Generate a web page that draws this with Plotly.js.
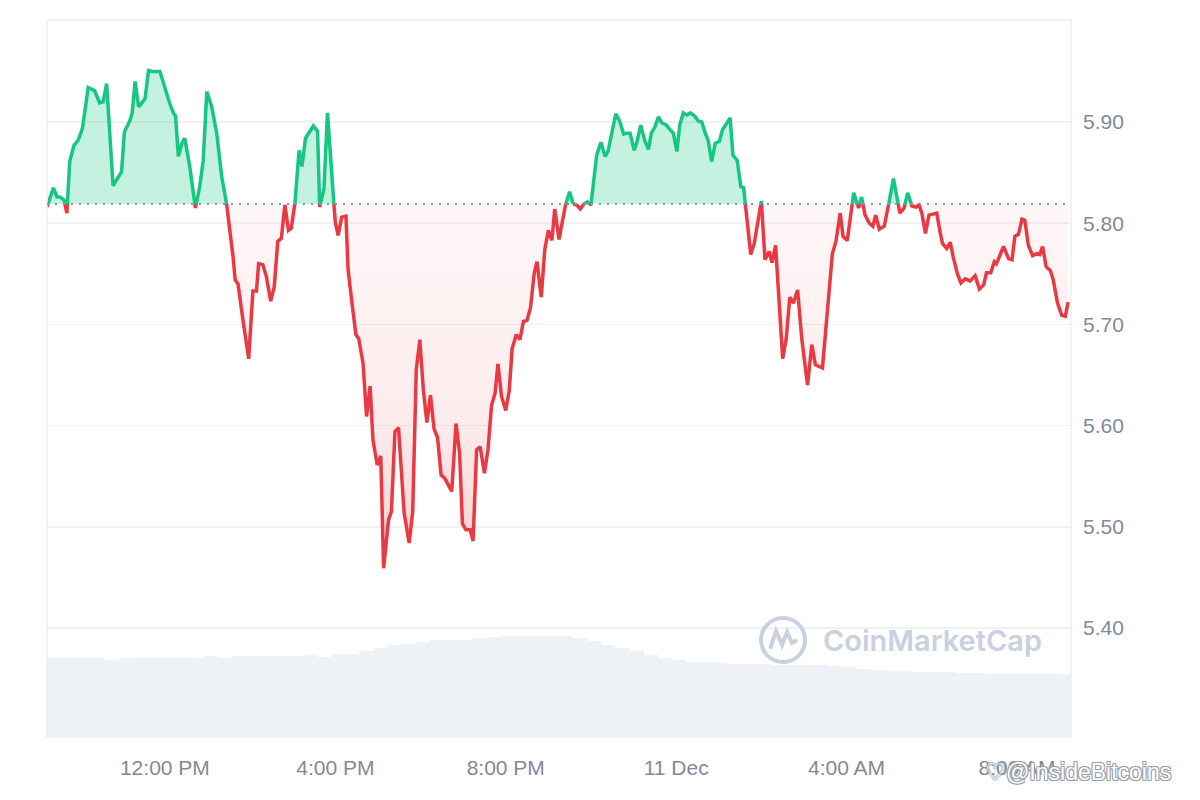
<!DOCTYPE html>
<html><head><meta charset="utf-8">
<script src="https://cdn.plot.ly/plotly-3.0.1.min.js"></script>
<style>html,body{margin:0;padding:0;background:#fff}#chart{width:1200px;height:800px}</style>
</head><body><div id="chart"></div>
<script>
// ---- data ----
const baselinePrice = 5.819;
// minutes since 10 Dec 00:00
const minutes = [554,563,568,572,578,582,586,592,598,604,612,621,628,633,638,647,654,659,663,671,674,678,683,692,697,702,713,720,727,732,735,739,744,748,755,763,769,774,779,786,793,800,805,810,816,819,823,830,838,844,849,852,858,863,869,874,879,884,889,894,898,903,909,913,918,929,935,938,944,949,958,960,964,969,975,978,983,989,993,999,1004,1009,1013,1019,1024,1028,1035,1039,1044,1049,1057,1064,1069,1074,1079,1084,1089,1094,1099,1104,1109,1114,1124,1130,1135,1139,1144,1150,1154,1159,1164,1170,1175,1180,1185,1189,1194,1200,1205,1209,1215,1220,1225,1230,1235,1240,1244,1250,1255,1260,1265,1269,1275,1284,1290,1295,1300,1305,1310,1315,1320,1328,1334,1340,1344,1355,1361,1366,1371,1375,1381,1385,1390,1396,1401,1405,1410,1415,1420,1426,1432,1436,1441,1445,1450,1455,1460,1466,1471,1476,1481,1485,1490,1495,1501,1505,1516,1520,1526,1531,1535,1545,1550,1560,1565,1571,1575,1580,1590,1595,1600,1605,1611,1617,1625,1631,1636,1646,1654,1660,1665,1671,1675,1681,1690,1697,1701,1706,1712,1717,1721,1726,1733,1739,1746,1755,1761,1766,1772,1778,1782,1786,1791,1796,1807,1812,1815,1821,1826,1830,1836,1841,1847,1854,1861,1867,1873,1877,1883,1888,1891,1901,1908,1913,1917,1922,1927,1931,1936,1942,1948,1952,1956,1961,1967,1971,1977,1983,1988,1992];
const prices = [5.816,5.835,5.826,5.826,5.823,5.810,5.861,5.877,5.882,5.894,5.934,5.931,5.919,5.920,5.938,5.837,5.846,5.851,5.890,5.902,5.909,5.940,5.915,5.923,5.951,5.950,5.950,5.933,5.918,5.909,5.906,5.866,5.879,5.884,5.856,5.815,5.836,5.862,5.930,5.915,5.889,5.846,5.829,5.803,5.767,5.744,5.740,5.704,5.666,5.733,5.733,5.760,5.759,5.747,5.723,5.737,5.782,5.785,5.818,5.793,5.795,5.819,5.872,5.856,5.884,5.896,5.891,5.816,5.834,5.909,5.819,5.801,5.788,5.806,5.807,5.754,5.724,5.690,5.686,5.662,5.609,5.639,5.586,5.561,5.570,5.459,5.507,5.515,5.594,5.598,5.513,5.484,5.515,5.655,5.685,5.635,5.603,5.630,5.597,5.588,5.551,5.548,5.535,5.602,5.573,5.503,5.497,5.497,5.486,5.576,5.579,5.553,5.576,5.620,5.632,5.661,5.629,5.615,5.635,5.676,5.690,5.685,5.703,5.704,5.717,5.750,5.762,5.727,5.774,5.793,5.783,5.814,5.784,5.818,5.831,5.819,5.818,5.814,5.819,5.821,5.818,5.867,5.880,5.866,5.871,5.908,5.900,5.888,5.889,5.889,5.872,5.881,5.897,5.881,5.873,5.889,5.895,5.905,5.899,5.897,5.892,5.889,5.871,5.897,5.909,5.907,5.909,5.906,5.901,5.900,5.889,5.882,5.861,5.879,5.881,5.892,5.904,5.867,5.862,5.836,5.835,5.769,5.780,5.822,5.764,5.772,5.761,5.778,5.666,5.686,5.727,5.721,5.734,5.685,5.640,5.680,5.660,5.657,5.718,5.770,5.782,5.810,5.787,5.783,5.830,5.815,5.826,5.808,5.800,5.797,5.808,5.794,5.797,5.818,5.844,5.810,5.815,5.830,5.817,5.816,5.818,5.810,5.790,5.808,5.810,5.790,5.780,5.775,5.781,5.767,5.750,5.741,5.745,5.743,5.748,5.735,5.739,5.751,5.751,5.762,5.760,5.777,5.765,5.764,5.787,5.789,5.804,5.803,5.778,5.768,5.770,5.769,5.777,5.757,5.753,5.744,5.721,5.709,5.708,5.722];
// volume bars, one every 20 minutes from 09:24 (relative units)
const volumeStartMin = 564;
const volumeStepMin = 20;
const volumes = [80,80,80,80,78,80,80,80,80,80,80,82,80,82,82,82,82,82,83,81,84,84,87,90,93,94,96,98,98,98,100,101,102,102,102,102,102,100,97,93,90,87,83,80,78,76,76,75,74,74,74,73,73,73,73,72,71,69,68,67,67,66,66,66,65,65,64,64,64,64,64,64];
const xTickTimes = ['2024-12-10 12:00','2024-12-10 16:00','2024-12-10 20:00','2024-12-11 00:00','2024-12-11 04:00','2024-12-11 08:00'];
const xTickLabels = ['12:00 PM','4:00 PM','8:00 PM','11 Dec','4:00 AM','8:00 AM'];
const yTickValues = [5.40,5.50,5.60,5.70,5.80,5.90];
const rangeStartMin = 554, rangeEndMin = 1996;

// ---- helpers ----
function toDate(m){
  const d = new Date(Date.UTC(2024,11,10) + Math.round(m*60)*1000);
  return d.toISOString().slice(0,19).replace('T',' ');
}
const runs = []; let cur = null;
for (let i=0;i<minutes.length;i++){
  const up = prices[i] >= baselinePrice;
  if (cur && cur.up !== up){
    const t0=minutes[i-1], t1=minutes[i], v0=prices[i-1], v1=prices[i];
    const tc = t0 + (baselinePrice - v0)/(v1 - v0)*(t1 - t0);
    cur.pts.push([tc, baselinePrice]); runs.push(cur);
    cur = {up, pts:[[tc, baselinePrice]]};
  }
  if (!cur) cur = {up, pts:[]};
  cur.pts.push([minutes[i], prices[i]]);
}
runs.push(cur);
function build(up){
  const lx=[],ly=[],fx=[],fy=[];
  runs.filter(r=>r.up===up).forEach(r=>{
    r.pts.forEach(p=>{lx.push(toDate(p[0])); ly.push(p[1]);});
    lx.push(null); ly.push(null);
    const poly=[[r.pts[0][0],baselinePrice], ...r.pts, [r.pts[r.pts.length-1][0],baselinePrice]];
    poly.forEach(p=>{fx.push(toDate(p[0])); fy.push(p[1]);});
    fx.push(null); fy.push(null);
  });
  return {lx,ly,fx,fy};
}
const G = build(true), R = build(false);
const GREEN = '#16c784', RED = '#ea3943';

const volX = volumes.map((v,i)=>toDate(volumeStartMin + i*volumeStepMin));

const traces = [
  {type:'bar', x: volX, y: volumes, yaxis:'y2', width: volumeStepMin*60000,
   marker:{color:'#eef1f5', line:{width:0}}, hoverinfo:'skip', showlegend:false},
  {type:'scatter', mode:'lines', x:R.fx, y:R.fy, fill:'toself', line:{width:0}, connectgaps:false,
   fillcolor:'rgba(234,57,67,0.08)',
   fillgradient:{type:'vertical', start:5.46, stop:baselinePrice,
     colorscale:[[0,'rgba(234,57,67,0.24)'],[0.4,'rgba(234,57,67,0.10)'],[1,'rgba(234,57,67,0.04)']]},
   hoverinfo:'skip', showlegend:false},
  {type:'scatter', mode:'lines', x:G.fx, y:G.fy, fill:'toself', line:{width:0}, connectgaps:false,
   fillcolor:'rgba(22,199,132,0.25)', hoverinfo:'skip', showlegend:false},
  {type:'scatter', mode:'lines', x:R.lx, y:R.ly, connectgaps:false, line:{color:RED, width:3.5}, showlegend:false},
  {type:'scatter', mode:'lines', x:G.lx, y:G.ly, connectgaps:false, line:{color:GREEN, width:3.5}, showlegend:false}
];

const tickFont = {family:'Arial, "Liberation Sans", sans-serif', size:21, color:'#808a9d'};
const frame = '#eceef1';
const layout = {
  width:1200, height:800,
  margin:{l:47, r:129, t:20, b:62},
  paper_bgcolor:'#fff', plot_bgcolor:'#fff',
  showlegend:false, bargap:0,
  xaxis:{type:'date', range:[toDate(rangeStartMin), toDate(rangeEndMin)],
    tickvals:xTickTimes, ticktext:xTickLabels, tickfont:tickFont,
    showgrid:false, zeroline:false, showline:false, ticks:'', ticklabelstandoff:15, fixedrange:true},
  yaxis:{side:'right', range:[5.2913, 6.0008], tickvals:yTickValues, tickformat:'.2f',
    tickfont:tickFont, showgrid:true, gridcolor:'#f0f1f3', gridwidth:1.5, zeroline:false,
    showline:false, ticks:'', ticklabelstandoff:11},
  yaxis2:{overlaying:'y', range:[0,718], visible:false},
  shapes:[
    {type:'line', xref:'paper', yref:'paper', x0:0, x1:0, y0:0, y1:1, line:{color:frame, width:1.5}},
    {type:'line', xref:'paper', yref:'paper', x0:1, x1:1, y0:0, y1:1, line:{color:frame, width:1.5}},
    {type:'line', xref:'paper', yref:'paper', x0:0, x1:1, y0:1, y1:1, line:{color:frame, width:1.5}},
    {type:'line', xref:'paper', yref:'y', x0:0, x1:0.997, y0:baselinePrice, y1:baselinePrice, layer:'above',
     line:{color:'#8c93a6', width:2, dash:'2px,6px'}},
    {type:'circle', xref:'paper', yref:'paper', xsizemode:'pixel', ysizemode:'pixel',
     xanchor:0.7188, yanchor:0.1365, x0:-22, x1:22, y0:-22, y1:22, line:{color:'#c9d1de', width:4}},
    {type:'path', xref:'paper', yref:'paper', xsizemode:'pixel', ysizemode:'pixel',
     xanchor:0.7188, yanchor:0.1365, path:'M -13,-9 L -7,9 L -1,-5 L 4,8 L 9,-3 L 14,0',
     line:{color:'#c9d1de', width:4}}
  ],
  annotations:[
    {xref:'paper', yref:'paper', x:0.8643, y:0.1351, xanchor:'center', yanchor:'middle', showarrow:false,
     text:'CoinMarketCap', font:{family:'Inter, "Open Sans", sans-serif', size:29, weight:600, color:'#c9d1de'}},
    {xref:'paper', yref:'paper', x:0.914, y:-0.047, xanchor:'left', yanchor:'middle', showarrow:false,
     text:'♡@InsideBitcoins', font:{family:'Arial, "Liberation Sans", sans-serif', size:23, color:'#ffffff',
       shadow:'1px 1px 0 #9aa0aa, -1px -1px 0 #9aa0aa, 1px -1px 0 #9aa0aa, -1px 1px 0 #9aa0aa'}}
  ]
};
Plotly.newPlot('chart', traces, layout, {displayModeBar:false, staticPlot:true});
</script></body></html>
